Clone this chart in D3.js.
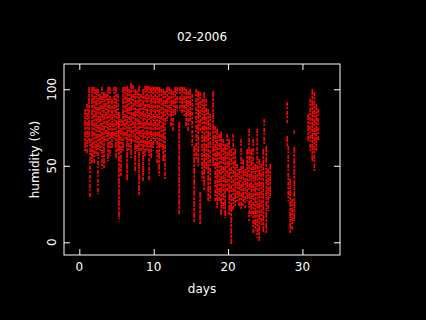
<!DOCTYPE html>
<html>
<head>
<meta charset="utf-8">
<script src="https://cdn.jsdelivr.net/npm/d3@7"></script>
<style>
  html, body { margin: 0; padding: 0; background: #000; }
  svg { display: block; }
  text { font-family: "DejaVu Sans", sans-serif; font-size: 12px; fill: #fff; }
</style>
</head>
<body>
<div id="chart"></div>
<script>
const TITLE = '02-2006';
const X_LABEL = 'days';
const Y_LABEL = 'humidity (%)';
const xTicks = [0, 10, 20, 30];
const yTicks = [0, 50, 100];

// humidity readings: [day, highest %, lowest %] per thin time slice
const streaks = [
  [0.77, 86.5, 60.3], [1.04, 89.7, 59.0], [1.31, 100.8, 66.9], [1.44, 66.9, 29.6],
  [1.71, 100.8, 51.8], [1.98, 100.8, 51.8], [2.25, 99.5, 57.1], [2.52, 99.5, 32.2],
  [2.79, 96.3, 60.3], [3.06, 100.8, 48.6], [3.32, 97.6, 49.2], [3.59, 96.3, 66.9],
  [3.86, 100.8, 53.8], [4.13, 100.8, 57.1], [4.40, 93.0, 62.3], [4.67, 100.8, 66.9],
  [4.94, 100.8, 55.8], [5.21, 96.3, 60.3], [5.34, 84.5, 15.9], [5.61, 79.9, 44.0],
  [5.88, 100.8, 60.3], [6.15, 100.8, 66.9], [6.42, 101.5, 40.7], [6.69, 99.5, 60.3],
  [6.96, 103.5, 55.8], [7.23, 102.2, 66.9], [7.50, 99.5, 47.3], [7.77, 98.2, 60.3],
  [8.03, 101.5, 30.9], [8.30, 96.3, 60.3], [8.57, 99.5, 40.7], [8.84, 101.5, 55.8],
  [9.11, 101.5, 60.3], [9.38, 101.5, 40.7], [9.65, 100.8, 55.8], [9.92, 100.8, 60.3],
  [10.19, 100.8, 66.9], [10.46, 100.8, 51.8], [10.73, 100.8, 44.0], [11.00, 99.5, 62.3],
  [11.27, 99.5, 53.8], [11.53, 98.2, 40.7], [11.80, 100.8, 79.9], [12.07, 100.8, 83.2],
  [12.34, 99.5, 76.7], [12.61, 98.2, 73.4], [12.88, 100.8, 83.2], [13.15, 100.8, 86.5],
  [13.42, 78.0, 19.2], [13.55, 100.8, 86.5], [13.82, 100.8, 85.2], [14.09, 100.8, 83.2],
  [14.36, 99.5, 76.7], [14.63, 98.2, 73.4], [14.90, 99.5, 79.9], [15.17, 96.3, 62.3],
  [15.44, 62.3, 13.3], [15.71, 99.5, 53.8], [15.98, 98.2, 50.5], [16.24, 97.6, 73.4],
  [16.24, 32.2, 12.6], [16.51, 93.0, 40.7], [16.78, 97.6, 34.2], [17.05, 93.0, 47.3],
  [17.32, 86.5, 27.6], [17.59, 83.2, 27.6], [17.99, 98.2, 50.5], [18.26, 75.4, 27.6],
  [18.53, 73.4, 23.1], [18.80, 70.1, 27.6], [19.07, 71.4, 17.8], [19.34, 66.9, 21.1],
  [19.61, 63.6, 16.5], [19.88, 70.1, 34.2], [20.15, 66.9, 17.8], [20.42, 60.3, 23.1],
  [20.42, 23.1, -0.5], [20.69, 70.1, 21.1], [20.95, 60.3, 24.4], [21.22, 50.5, 27.6],
  [21.49, 47.3, 24.4], [21.76, 66.9, 21.1], [22.03, 53.8, 24.4], [22.30, 47.3, 23.1],
  [22.57, 60.3, 27.6], [22.84, 73.4, 14.6], [23.11, 60.3, 17.8], [23.38, 66.9, 6.1],
  [23.65, 50.5, 8.0], [23.92, 73.4, 3.5], [24.19, 53.8, 1.5], [24.46, 50.5, 11.3],
  [24.73, 60.3, 6.7], [24.86, 79.9, 63.6], [25.13, 62.3, 6.1], [25.40, 47.3, 21.1],
  [25.66, 50.5, 29.6], [27.95, 91.0, 78.6], [27.95, 68.8, 63.6], [28.09, 62.3, 27.6],
  [28.36, 40.7, 6.1], [28.63, 27.6, 8.0], [28.90, 61.6, 14.6], [28.90, 72.6, 71.6],
  [30.78, 83.2, 66.9], [31.05, 93.0, 60.3], [31.32, 99.5, 53.8], [31.59, 97.6, 45.9],
  [31.86, 89.7, 60.3], [32.12, 86.5, 66.9]
];

const width = 426, height = 320;
const plotLeft = 64, plotRight = 340, plotTop = 64, plotBottom = 255;

const svg = d3.select('#chart').append('svg')
  .attr('width', width)
  .attr('height', height);

svg.append('rect').attr('width', width).attr('height', height).attr('fill', '#000');

const x = d3.scaleLinear().domain([-2.06, 35.05]).range([plotLeft, plotRight]);
const y = d3.scaleLinear().domain([-8.3, 116.5]).range([plotBottom, plotTop]);

// data
svg.append('g')
  .selectAll('line')
  .data(streaks)
  .enter().append('line')
  .attr('x1', d => x(d[0]))
  .attr('x2', d => x(d[0]))
  .attr('y1', d => y(d[1]) - 1)
  .attr('y2', d => y(d[2]) + 1)
  .attr('stroke', '#ff0000')
  .attr('stroke-width', 1.7)
  .attr('stroke-dasharray', (d, i) => i % 2 ? '4,1,2,2' : '6,1,3,1');

// box + inward ticks on all four sides
const axes = svg.append('g').attr('class', 'axes');
axes.append('g').attr('transform', `translate(0,${plotBottom})`)
  .call(d3.axisBottom(x).tickValues(xTicks).tickSize(-6).tickFormat(''));
axes.append('g').attr('transform', `translate(0,${plotTop})`)
  .call(d3.axisTop(x).tickValues(xTicks).tickSize(-6).tickFormat(''));
axes.append('g').attr('transform', `translate(${plotLeft},0)`)
  .call(d3.axisLeft(y).tickValues(yTicks).tickSize(-6).tickFormat(''));
axes.append('g').attr('transform', `translate(${plotRight},0)`)
  .call(d3.axisRight(y).tickValues(yTicks).tickSize(-6).tickFormat(''));
axes.selectAll('.domain').remove();
axes.selectAll('line').attr('stroke', '#fff');

svg.append('rect')
  .attr('x', plotLeft).attr('y', plotTop)
  .attr('width', plotRight - plotLeft).attr('height', plotBottom - plotTop)
  .attr('fill', 'none').attr('stroke', '#fff').attr('stroke-width', 1);

// tick labels
svg.append('g').selectAll('text')
  .data(xTicks)
  .enter().append('text')
  .attr('x', d => x(d))
  .attr('y', 271)
  .attr('text-anchor', 'middle')
  .text(d => d);

svg.append('g').selectAll('text')
  .data(yTicks)
  .enter().append('text')
  .attr('transform', d => `translate(56,${y(d)}) rotate(-90)`)
  .attr('text-anchor', 'middle')
  .text(d => d);

// titles
svg.append('text')
  .attr('x', 202).attr('y', 41)
  .attr('text-anchor', 'middle')
  .text(TITLE);

svg.append('text')
  .attr('x', 202).attr('y', 293)
  .attr('text-anchor', 'middle')
  .text(X_LABEL);

svg.append('text')
  .attr('transform', `translate(39,${(plotTop + plotBottom) / 2}) rotate(-90)`)
  .attr('text-anchor', 'middle')
  .text(Y_LABEL);
</script>
</body>
</html>
